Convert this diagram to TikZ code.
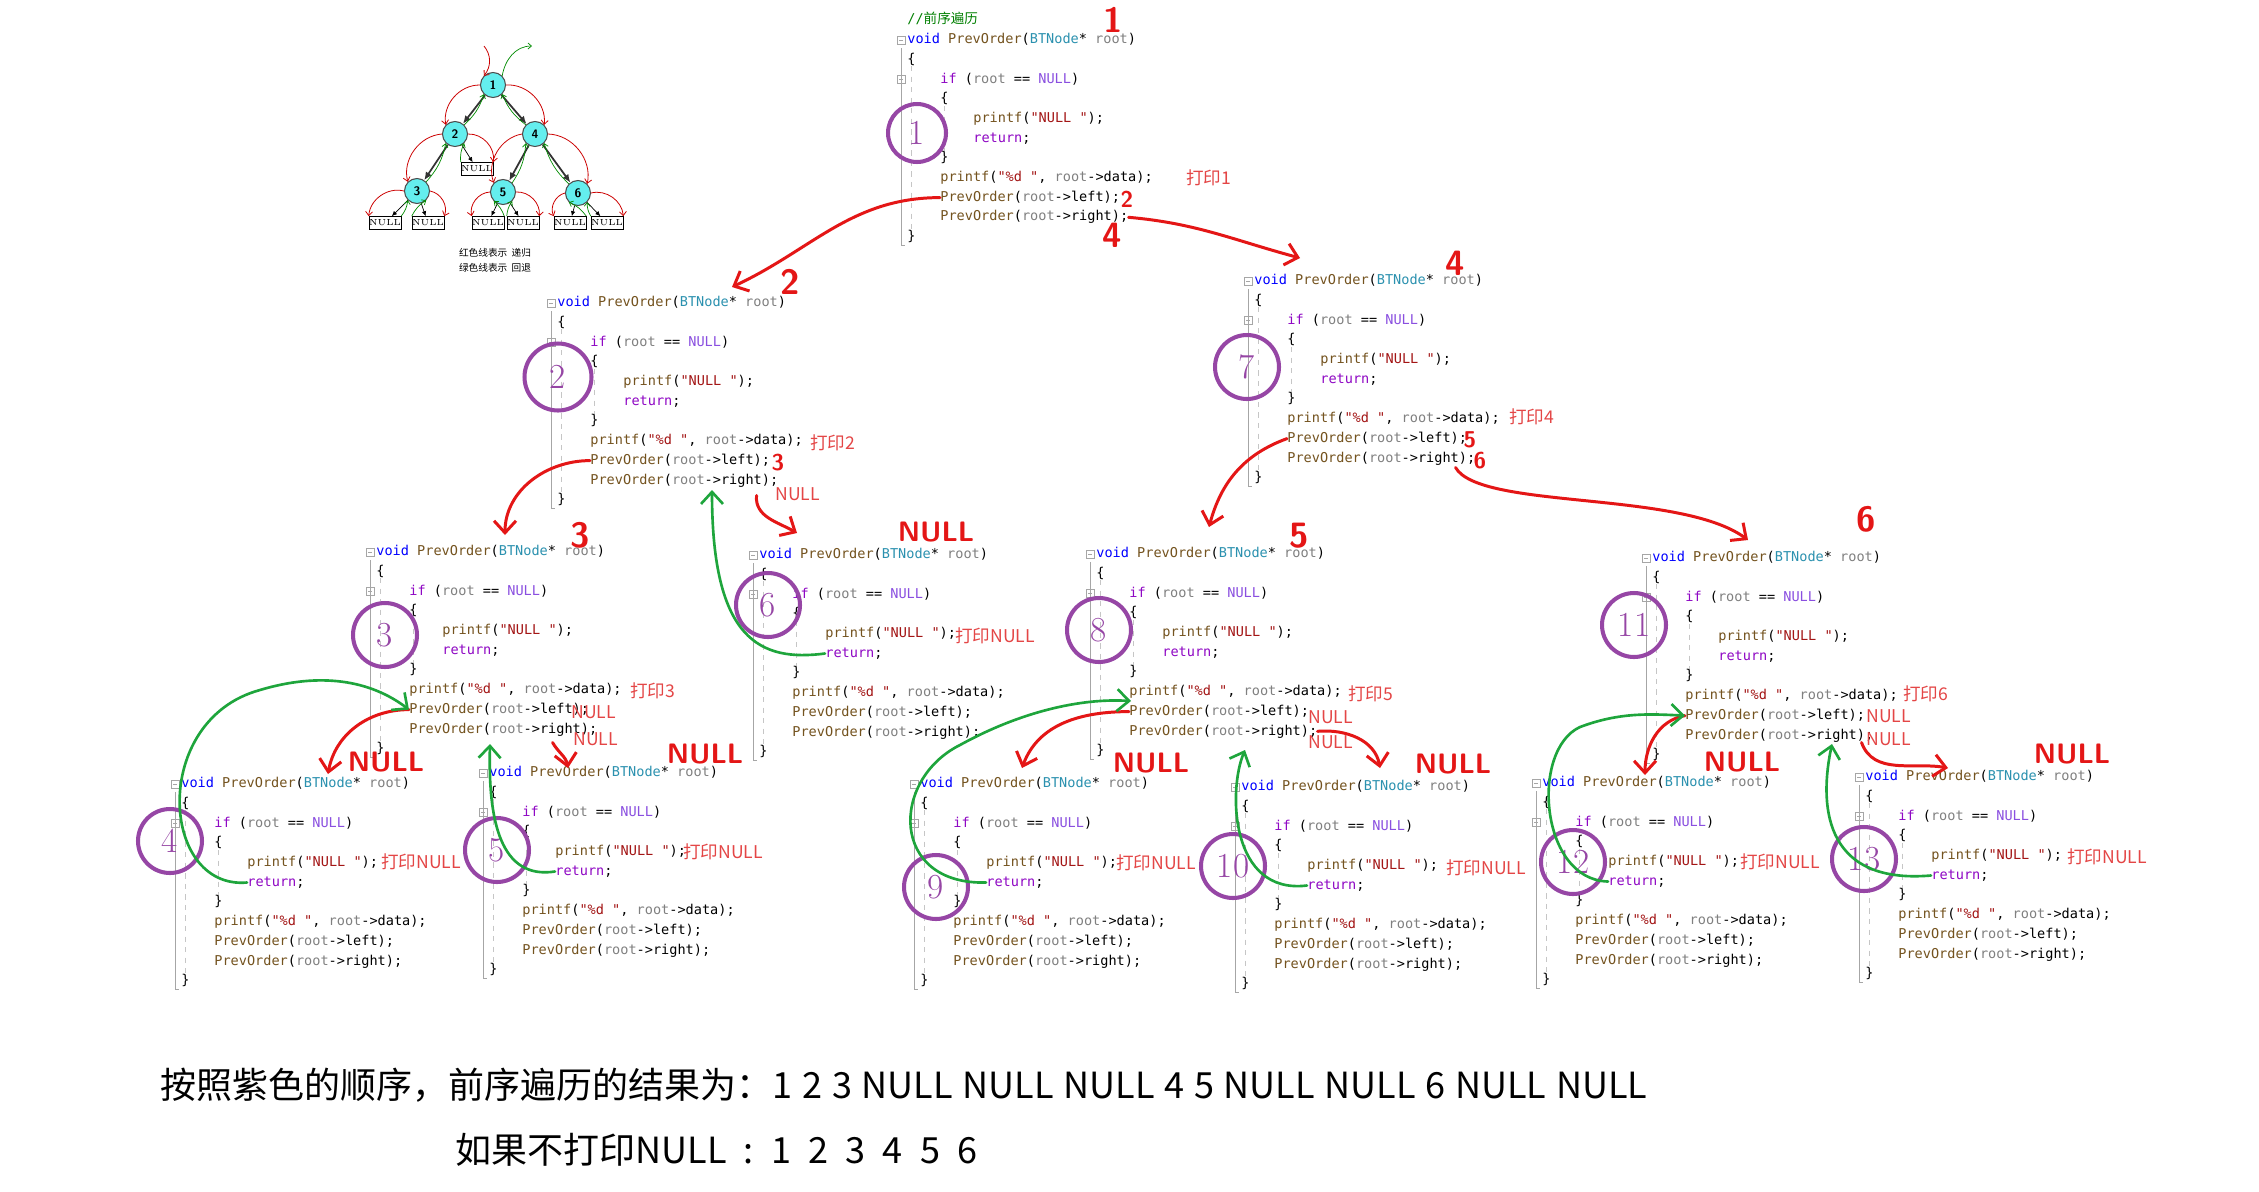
\documentclass[tikz,border=0pt]{standalone}
\usepackage{fontspec}
\usetikzlibrary{arrows.meta,calc}
\newfontfamily\cjk{Noto Sans CJK SC}
\newfontfamily\codefont{DejaVu Sans Mono}
\definecolor{kwblue}{RGB}{0,0,255}
\definecolor{fnbrown}{RGB}{116,83,31}
\definecolor{tyteal}{RGB}{43,145,175}
\definecolor{argray}{RGB}{128,128,128}
\definecolor{kwpurple}{RGB}{143,8,196}
\definecolor{macviolet}{RGB}{138,79,224}
\definecolor{strred}{RGB}{163,21,21}
\definecolor{cmtgreen}{RGB}{0,128,0}
\definecolor{seqpurple}{RGB}{150,70,165}
\definecolor{hred}{RGB}{228,22,22}
\definecolor{hgreen}{RGB}{30,165,60}
\definecolor{pred}{RGB}{228,70,70}
\definecolor{tcyan}{RGB}{100,238,238}
\newcommand{\kwb}[1]{\textcolor{kwblue}{#1}}
\newcommand{\fnc}[1]{\textcolor{fnbrown}{#1}}
\newcommand{\typ}[1]{\textcolor{tyteal}{#1}}
\newcommand{\argr}[1]{\textcolor{argray}{#1}}
\newcommand{\kwp}[1]{\textcolor{kwpurple}{#1}}
\newcommand{\mac}[1]{\textcolor{macviolet}{#1}}
\newcommand{\cstr}[1]{\textcolor{strred}{#1}}
% small fold box of the editor gutter
\newcommand{\foldbox}[2]{%
  \draw[fold] (#1-4,#2-4) rectangle (#1+4,#2+4);
  \draw[fold] (#1-2,#2) -- (#1+2,#2);}
% one copy of PrevOrder: name, x of "void", y of its line
\newcommand{\prevcode}[3]{%
  \draw[gutter] (#2-6,-#3-8) -- (#2-6,-#3-205) -- (#2-2,-#3-205);
  \draw[guide] (#2+4,-#3-26) -- (#2+4,-#3-192);
  \draw[guide] (#2+37,-#3-66) -- (#2+37,-#3-112);
  \foldbox{#2-6}{-#3}
  \foldbox{#2-6}{-#3-39.4}
  \node[codeline] (#1-void)  at (#2,-#3)          {\kwb{void} \fnc{PrevOrder}(\typ{BTNode}* \argr{root})};
  \node[codeline] (#1-ob)    at (#2,-#3-19.7)     {\{};
  \node[codeline] (#1-if)    at (#2+33,-#3-39.4)  {\kwp{if} (\argr{root} == \mac{NULL})};
  \node[codeline] (#1-ob2)   at (#2+33,-#3-59.1)  {\{};
  \node[codeline] (#1-pn)    at (#2+66,-#3-78.8)  {\fnc{printf}(\cstr{"NULL "});};
  \node[codeline] (#1-ret)   at (#2+66,-#3-98.5)  {\kwp{return};};
  \node[codeline] (#1-cb2)   at (#2+33,-#3-118.2) {\}};
  \node[codeline] (#1-pd)    at (#2+33,-#3-137.9) {\fnc{printf}(\cstr{"\%d "}, \argr{root}->data);};
  \node[codeline] (#1-left)  at (#2+33,-#3-157.6) {\fnc{PrevOrder}(\argr{root}->left);};
  \node[codeline] (#1-right) at (#2+33,-#3-177.3) {\fnc{PrevOrder}(\argr{root}->right);};
  \node[codeline] (#1-cb)    at (#2,-#3-197)      {\}};}

\begin{document}
\begin{tikzpicture}[x=0.02cm,y=0.02cm,
    codeline/.style={anchor=west,inner sep=0pt,text height=6pt,text depth=1.8pt,font=\codefont\fontsize{7.72}{9}\selectfont},
    gutter/.style={draw=gray!70,line width=0.5pt},
    guide/.style={draw=gray!45,dashed,line width=0.3pt},
    fold/.style={draw=gray!70,line width=0.4pt},
    seqcircle/.style={circle,draw=seqpurple,line width=2.3pt,minimum size=1.28cm,inner sep=0pt,text=seqpurple,font=\fontsize{20}{20}\selectfont},
    recur/.style={draw=hred,line width=1.7pt,line cap=round,-{Straight Barb[length=2.4mm,width=4.4mm]}},
    retn/.style={draw=hgreen,line width=1.5pt,line cap=round,-{Straight Barb[length=2.4mm,width=4.4mm]}},
    hand/.style={text=hred,inner sep=0pt,font=\sffamily\bfseries\fontsize{16}{16}\selectfont},
    handnum/.style={hand,font=\sffamily\bfseries\fontsize{20}{20}\selectfont},
    handsmall/.style={hand,font=\sffamily\bfseries\fontsize{13}{13}\selectfont},
    printlbl/.style={anchor=west,inner sep=0pt,text=pred,font=\cjk\fontsize{10}{10}\selectfont},
    tnode/.style={circle,draw=gray!60!black,line width=0.6pt,fill=tcyan,minimum size=0.5cm,inner sep=0pt,font=\sffamily\bfseries\fontsize{7}{7}\selectfont},
    nullbox/.style={draw,line width=0.4pt,fill=white,minimum width=0.56cm,minimum height=0.26cm,inner sep=0pt,font=\fontsize{5}{5}\selectfont},
    tedge/.style={draw=gray!40!black,line width=1pt,-{Latex[length=1.6mm,width=1.4mm]}},
    tnull/.style={draw=black,line width=0.4pt,-{Latex[length=1mm,width=0.9mm]}},
    trec/.style={draw=red!80!black,line width=0.45pt,-{Straight Barb[length=0.8mm,width=1.4mm]}},
    tret/.style={draw=green!55!black,line width=0.4pt,-{Straight Barb[length=0.7mm,width=1.2mm]}},
    result/.style={anchor=west,inner sep=0pt,font=\cjk\fontsize{20.5}{24}\selectfont}
]
\useasboundingbox[fill=white] (0,0) rectangle (2259,-1191);

% small tree
\node[tnode] (t1) at (493,-85)  {1};
\node[tnode] (t2) at (455,-134) {2};
\node[tnode] (t4) at (535,-134) {4};
\node[tnode] (t3) at (417,-191) {3};
\node[tnode] (t5) at (503,-192) {5};
\node[tnode] (t6) at (578,-193) {6};
\node[nullbox] (n2)  at (477,-169) {NULL};
\node[nullbox] (n3l) at (385,-223) {NULL};
\node[nullbox] (n3r) at (428,-223) {NULL};
\node[nullbox] (n5l) at (488,-223) {NULL};
\node[nullbox] (n5r) at (523,-223) {NULL};
\node[nullbox] (n6l) at (570,-223) {NULL};
\node[nullbox] (n6r) at (607,-223) {NULL};
\foreach \p/\c in {t1/t2,t1/t4,t2/t3,t4/t5,t4/t6}
  \draw[tedge] (\p) -- (\c);
\foreach \p/\c in {t2/n2,t3/n3l,t3/n3r,t5/n5l,t5/n5r,t6/n6l,t6/n6r}
  \draw[tnull] (\p) -- (\c);
\foreach \p/\c in {t1/t2,t2/t3,t4/t5,t3/n3l,t5/n5l,t6/n6l} {
  \draw[trec] (\p.west) to[bend right=50] (\c.north west);
  \draw[tret] (\c.north east) to[bend right=15] (\p.south west);
}
\foreach \p/\c in {t1/t4,t2/n2,t4/t6,t3/n3r,t5/n5r,t6/n6r} {
  \draw[trec] (\p.east) to[bend left=50] (\c.north east);
  \draw[tret] (\c.north west) to[bend left=15] (\p.south east);
}
\coordinate (tin)  at (484,-46);
\coordinate (tout) at (532,-46);
\draw[trec] (tin) to[bend left=40] (t1.north west);
\draw[tret] (t1.north east) to[out=80,in=180] (tout);
\node[font=\cjk\fontsize{5.5}{6}\selectfont] (cap1) at (495,-253) {红色线表示\ \ 递归};
\node[font=\cjk\fontsize{5.5}{6}\selectfont] (cap2) at (495,-268) {绿色线表示\ \ 回退};

% the thirteen calls
\node[codeline] (b1-cmt) at (907,-20) {\textcolor{cmtgreen}{//{\cjk 前序遍历}}};
\prevcode{b1}{907}{40}
\prevcode{b2}{557}{303}
\prevcode{b3}{376}{552}
\prevcode{b6}{759}{555}
\prevcode{b4}{181}{784}
\prevcode{b5}{489}{773}
\prevcode{b7}{1254}{281}
\prevcode{b8}{1096}{554}
\prevcode{b11}{1652}{558}
\prevcode{b9}{920}{784}
\prevcode{b10}{1241}{787}
\prevcode{b12}{1542}{783}
\prevcode{b13}{1865}{777}

% order circles
\node[seqcircle,minimum size=1.16cm] (s1) at (917,-133) {1};
\node[seqcircle,minimum size=1.34cm] (s2) at (558,-377) {2};
\node[seqcircle] (s3)  at (385,-635) {3};
\node[seqcircle] (s4)  at (170,-841) {4};
\node[seqcircle] (s5)  at (497,-850) {5};
\node[seqcircle] (s6)  at (768,-605) {6};
\node[seqcircle] (s7)  at (1247,-367) {7};
\node[seqcircle] (s8)  at (1099,-630) {8};
\node[seqcircle] (s9)  at (936,-887) {9};
\node[seqcircle] (s10) at (1233,-866) {10};
\node[seqcircle] (s11) at (1634,-625) {11};
\node[seqcircle] (s12) at (1573,-862) {12};
\node[seqcircle] (s13) at (1864,-859) {13};

% printed notes
\node[printlbl] (p1) at (1186,-178) {打印1};
\node[printlbl] (p2) at (810,-443)  {打印2};
\node[printlbl] (p3) at (630,-691)  {打印3};
\node[printlbl] (p4) at (1509,-417) {打印4};
\node[printlbl] (p5) at (1348,-694) {打印5};
\node[printlbl] (p6) at (1903,-694) {打印6};
\node[printlbl] (pn6)  at (955,-636)  {打印NULL};
\node[printlbl] (pn4)  at (381,-862)  {打印NULL};
\node[printlbl] (pn5)  at (683,-852)  {打印NULL};
\node[printlbl] (pn9)  at (1116,-863) {打印NULL};
\node[printlbl] (pn10) at (1446,-868) {打印NULL};
\node[printlbl] (pn12) at (1740,-862) {打印NULL};
\node[printlbl] (pn13) at (2067,-857) {打印NULL};
\node[printlbl] (q2)  at (775,-494)  {NULL};
\node[printlbl] (q3a) at (571,-712)  {NULL};
\node[printlbl] (q3b) at (573,-739)  {NULL};
\node[printlbl] (q8a) at (1308,-717) {NULL};
\node[printlbl] (q8b) at (1308,-742) {NULL};
\node[printlbl] (q11a) at (1866,-716) {NULL};
\node[printlbl] (q11b) at (1866,-739) {NULL};

% handwritten marks
\node[handnum]   (h1)  at (1113,-20)  {1};
\node[handnum]   (h2)  at (790,-282)  {2};
\node[handsmall] (h2b) at (1127,-199) {2};
\node[handnum]   (h4)  at (1112,-235) {4};
\node[handsmall] (h3b) at (778,-463)  {3};
\node[handnum]   (h3)  at (580,-535)  {3};
\node[handnum]   (h4b) at (1455,-263) {4};
\node[handsmall] (h5b) at (1470,-440) {5};
\node[handsmall] (h6b) at (1480,-461) {6};
\node[handnum]   (h5)  at (1299,-536) {5};
\node[handnum]   (h6)  at (1866,-519) {6};
\node[hand] (nl6)  at (936,-532)  {NULL};
\node[hand] (nl4)  at (386,-762)  {NULL};
\node[hand] (nl5)  at (705,-754)  {NULL};
\node[hand] (nl9)  at (1151,-763) {NULL};
\node[hand] (nl10) at (1453,-764) {NULL};
\node[hand] (nl12) at (1742,-762) {NULL};
\node[hand] (nl13) at (2072,-754) {NULL};

% red: going down into a call
\coordinate (r1e)  at (732,-287);
\coordinate (r2e)  at (1300,-258);
\coordinate (r3e)  at (505,-535);
\coordinate (r4e)  at (797,-533);
\coordinate (r5e)  at (328,-774);
\coordinate (r6e)  at (568,-768);
\coordinate (r7e)  at (1209,-527);
\coordinate (r8e)  at (1748,-540);
\coordinate (r9e)  at (1022,-768);
\coordinate (r10e) at (1380,-768);
\coordinate (r11e) at (1645,-775);
\coordinate (r12e) at (1948,-768);
\draw[recur] (b1-left.west) to[out=180,in=25] (r1e);
\draw[recur] (b1-right.east) to[out=-5,in=165] (r2e);
\draw[recur] (b2-left.west) to[out=180,in=90] (r3e);
\draw[recur] ($(b2-right.south east)+(-22,-8)$) to[out=-95,in=150] (r4e);
\draw[recur] (b3-left.west) to[out=180,in=80] (r5e);
\draw[recur] ($(b3-right.south east)+(-45,-6)$) to[out=-60,in=100] (r6e);
\draw[recur] (b7-left.west) to[out=200,in=75] (r7e);
\draw[recur] ($(b7-right.south east)+(-20,-2)$) .. controls (1480,-510) and (1680,-490) .. (r8e);
\draw[recur] (b8-left.west) to[out=180,in=70] (r9e);
\draw[recur] (b8-right.east) to[out=5,in=100] (r10e);
\draw[recur] (b11-left.west) to[out=190,in=90] (r11e);
\draw[recur] ($(b11-right.south east)+(-12,0)$) to[out=-70,in=170] (r12e);

% green: coming back
\coordinate (g1e) at (712,-490);
\coordinate (g3e) at (490,-744);
\coordinate (g4e) at (1131,-701);
\coordinate (g5e) at (1245,-750);
\coordinate (g7e) at (1832,-744);
\draw[retn] (b6-ret.west) .. controls (760,-662) and (712,-640) .. (g1e);
\draw[retn] (b4-ret.west) .. controls (160,-890) and (150,-720) .. (260,-690)
            .. controls (320,-672) and (370,-680) .. (b3-left.west);
\draw[retn] (b5-ret.west) .. controls (500,-880) and (488,-820) .. (g3e);
\draw[retn] (b9-ret.west) .. controls (890,-885) and (890,-780) .. (960,-745)
            .. controls (1020,-712) and (1080,-698) .. (g4e);
\draw[retn] (b10-ret.west) .. controls (1230,-895) and (1228,-790) .. (g5e);
\draw[retn] (b12-ret.west) .. controls (1540,-880) and (1530,-750) .. (1580,-727)
            .. controls (1620,-712) and (1650,-714) .. (b11-left.west);
\draw[retn] (b13-ret.west) .. controls (1820,-885) and (1820,-800) .. (g7e);

% result
\node[result] (res1) at (160,-1085) {\spaceskip=0.27em 按照紫色的顺序，前序遍历的结果为：1 2 3 NULL NULL NULL 4 5 NULL NULL 6 NULL NULL};
\node[result] (res2) at (455,-1150) {\spaceskip=0.48em 如果不打印NULL : 1 2 3 4 5 6};
\end{tikzpicture}
\end{document}
